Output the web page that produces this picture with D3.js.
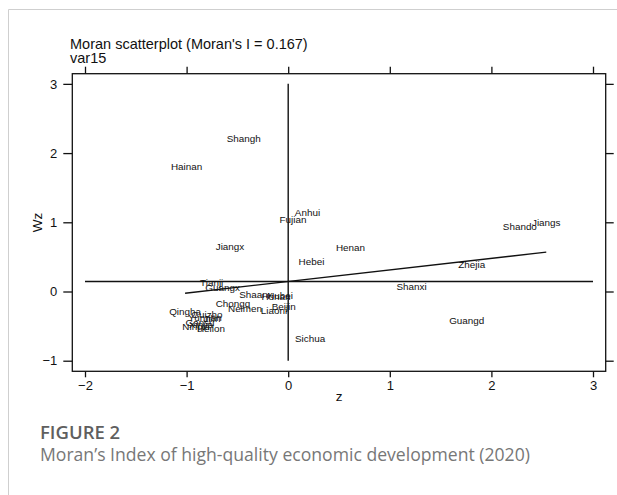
<!DOCTYPE html>
<html>
<head>
<meta charset="utf-8">
<script src="https://cdn.jsdelivr.net/npm/d3@7/dist/d3.min.js"></script>
<style>
  html, body { margin: 0; padding: 0; background: #fff; }
  svg { display: block; }
</style>
</head>
<body>
<script>
// Provinces (abbreviated labels), standardized value z and spatial lag Wz
const provinces = ["Beijin","Tianji","Hebei","Shanxi","Neimen","Liaoni","Jilin","Heilon",
  "Shangh","Jiangs","Zhejia","Anhui","Fujian","Jiangx","Shando","Henan","Hubei","Hunan",
  "Guangd","Guangx","Hainan","Chongq","Sichua","Guizho","Yunnan","Shaanx","Gansu",
  "Qingha","Ningxi","Xinjia"];
const zValues = [-0.044,-0.753,0.229,1.215,-0.425,-0.140,-0.750,-0.760,
  -0.437,2.540,1.807,0.190,0.047,-0.573,2.280,0.613,-0.080,-0.120,
  1.757,-0.645,-1.000,-0.543,0.215,-0.800,-0.820,-0.317,-0.868,
  -1.015,-0.907,-0.858];
const wzValues = [-0.220,0.127,0.440,0.070,-0.243,-0.277,-0.383,-0.540,
  2.212,1.000,0.393,1.145,1.043,0.647,0.936,0.633,-0.050,-0.075,
  -0.412,0.055,1.800,-0.171,-0.676,-0.325,-0.368,-0.040,-0.440,
  -0.289,-0.500,-0.470];

const moranI = 0.167;   // slope of the fitted line
const meanZ = 0;        // vertical reference line
const meanWz = 0.145;   // horizontal reference line

const xTicks = [-2,-1,0,1,2,3];
const yTicks = [-1,0,1,2,3];

const W = 617, H = 495;
const box = { left: 72.3, right: 605.7, top: 73.7, bottom: 371.3 };

const svg = d3.select("body").append("svg").attr("width", W).attr("height", H);

// page border lines
svg.append("line").attr("x1", 8.5).attr("x2", W).attr("y1", 9.5).attr("y2", 9.5)
  .attr("stroke", "#cfcfcf").attr("stroke-width", 1);
svg.append("line").attr("x1", 8.5).attr("x2", 8.5).attr("y1", 9.5).attr("y2", H)
  .attr("stroke", "#cfcfcf").attr("stroke-width", 1);

const x = d3.scaleLinear().domain([-2.125, 3.125]).range([box.left, box.right]);
const y = d3.scaleLinear().domain([-1.153, 3.147]).range([box.bottom, box.top]);

const font = "'Liberation Sans', Arial, Helvetica, sans-serif";
const ink = "#111";

// titles
svg.append("text").attr("x", 70).attr("y", 49)
  .attr("font-family", font).attr("font-size", 14.5).attr("fill", ink)
  .text("Moran scatterplot (Moran's I = " + moranI.toFixed(3) + ")");
svg.append("text").attr("x", 70).attr("y", 62.5)
  .attr("font-family", font).attr("font-size", 14.5).attr("fill", ink)
  .text("var15");

// axes
function styleAxis(g) {
  g.select(".domain").remove();
  g.selectAll(".tick line").attr("stroke", ink).attr("stroke-width", 1.3);
  g.selectAll(".tick text").attr("fill", ink).attr("font-family", font).attr("font-size", 13);
}
svg.append("g").attr("transform", `translate(${box.left},0)`)
  .call(d3.axisLeft(y).tickValues(yTicks).tickFormat(d3.format("d")).tickSize(9).tickPadding(6).tickSizeOuter(0))
  .call(styleAxis);
svg.append("g").attr("transform", `translate(${box.right},0)`)
  .call(d3.axisRight(y).tickValues(yTicks).tickFormat("").tickSize(8).tickSizeOuter(0))
  .call(styleAxis);
svg.append("g").attr("transform", `translate(0,${box.bottom})`)
  .call(d3.axisBottom(x).tickValues(xTicks).tickFormat(d3.format("d")).tickSize(6).tickPadding(3).tickSizeOuter(0))
  .call(styleAxis);
svg.append("g").attr("transform", `translate(0,${box.top})`)
  .call(d3.axisTop(x).tickValues(xTicks).tickFormat("").tickSize(7).tickSizeOuter(0))
  .call(styleAxis);

// plot frame
svg.append("rect").attr("x", box.left).attr("y", box.top)
  .attr("width", box.right - box.left).attr("height", box.bottom - box.top)
  .attr("fill", "none").attr("stroke", ink).attr("stroke-width", 1.3);

// axis titles
svg.append("text").attr("transform", `translate(42,${(box.top + box.bottom) / 2}) rotate(-90)`)
  .attr("text-anchor", "middle").attr("font-family", font).attr("font-size", 13.5).attr("fill", ink)
  .text("Wz");
svg.append("text").attr("x", (box.left + box.right) / 2).attr("y", 401)
  .attr("text-anchor", "middle").attr("font-family", font).attr("font-size", 13.5).attr("fill", ink)
  .text("z");

// reference lines through the means
svg.append("line").attr("x1", x(-2)).attr("x2", x(3)).attr("y1", y(meanWz)).attr("y2", y(meanWz))
  .attr("stroke", ink).attr("stroke-width", 1.4);
svg.append("line").attr("x1", x(meanZ)).attr("x2", x(meanZ)).attr("y1", y(-1)).attr("y2", y(3))
  .attr("stroke", ink).attr("stroke-width", 1.4);

// fitted line (slope = Moran's I) over the range of z
const [zMin, zMax] = d3.extent(zValues);
const fit = z => meanWz + moranI * (z - meanZ);
svg.append("line").attr("x1", x(zMin)).attr("x2", x(zMax)).attr("y1", y(fit(zMin))).attr("y2", y(fit(zMax)))
  .attr("stroke", ink).attr("stroke-width", 1.4);

// province labels centred on each point
const points = provinces.map((p, i) => ({ name: p, z: zValues[i], wz: wzValues[i] }));
svg.append("g").selectAll("text").data(points).join("text")
  .attr("x", d => x(d.z)).attr("y", d => y(d.wz)).attr("dy", "0.36em")
  .attr("text-anchor", "middle").attr("font-family", font).attr("font-size", 9.9).attr("fill", ink)
  .text(d => d.name);

// caption
const capFont = "'Open Sans', 'Noto Sans', sans-serif";
svg.append("text").attr("x", 40).attr("y", 439)
  .attr("font-family", capFont).attr("font-size", 18.5).attr("font-weight", 600).attr("fill", "#5f5f5f")
  .text("FIGURE 2");
svg.append("text").attr("x", 40).attr("y", 461)
  .attr("font-family", capFont).attr("font-size", 17.6).attr("fill", "#777")
  .text("Moran’s Index of high-quality economic development (2020)");
</script>
</body>
</html>
